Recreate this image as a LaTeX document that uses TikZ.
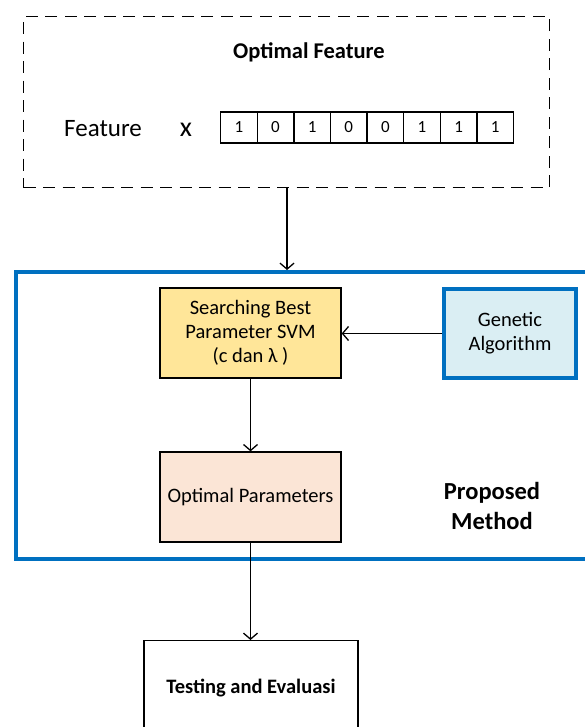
\documentclass[tikz,border=0pt]{standalone}
\usepackage{fontspec}
\setmainfont{Carlito}
\usetikzlibrary{arrows.meta}
\definecolor{pblue}{HTML}{0070C0}
\definecolor{yel}{HTML}{FFE699}
\definecolor{peach}{HTML}{FBE5D6}
\definecolor{lblue}{HTML}{DAEEF3}
\tikzset{
  box/.style={draw, line width=1.3pt, inner sep=0pt, align=center, font=\fontsize{20.5}{24}\selectfont},
  cell/.style={draw, line width=1.3pt, inner sep=0pt, minimum width=36.6pt, minimum height=31pt, anchor=west, font=\fontsize{17}{18}\selectfont},
  arr/.style={line width=1.3pt, -{Straight Barb[length=6pt,width=14pt,line width=1.3pt]}},
}
\begin{document}
\begin{tikzpicture}[x=1pt,y=-1pt]
\useasboundingbox (0,0) rectangle (585,727);
% dashed top box
\node[draw, line width=1.3pt, dash pattern=on 12pt off 7.5pt, inner sep=0pt, anchor=north west, minimum width=526pt, minimum height=171pt] (opt) at (23,16) {};
\node[font=\fontsize{22.5}{26}\selectfont\bfseries] (title) at (309,52) {Optimal Feature};
\node[font=\fontsize{25}{28}\selectfont] (feat) at (103,129) {Feature};
\node[font=\fontsize{28}{30}\selectfont] (xx) at (186,130) {x};
\foreach \v [count=\i from 0] in {1,0,1,0,0,1,1,1} {
  \node[cell] (c\i) at (220+\i*36.6,127.5) {\v};
}
% proposed method box
\node[draw=pblue, line width=3.5pt, inner sep=0pt, anchor=north west, minimum width=590pt, minimum height=287pt] (pm) at (14,270) {};
\node[font=\fontsize{24.5}{30}\selectfont\bfseries, align=center] (pmlabel) at (492,506) {Proposed\\Method};
% inner boxes
\node[box, fill=yel, minimum width=181pt, minimum height=90pt] (sb) at (250.5,333) {Searching Best\\Parameter SVM\\(c dan λ )};
\node[box, draw=pblue, line width=3.2pt, fill=lblue, minimum width=132pt, minimum height=89pt] (ga) at (510,333.5) {Genetic\\Algorithm};
\node[box, fill=peach, minimum width=181pt, minimum height=90pt] (op) at (250.5,497) {Optimal Parameters};
\node[box, anchor=north, minimum width=214pt, minimum height=120pt] (te) at (251,640) {};
\node[font=\fontsize{20.5}{24}\selectfont\bfseries] (tetext) at (251,688) {Testing and Evaluasi};
% connectors
\draw[arr] (opt.south -| 287,0) -- (pm.north -| 287,0);
\draw[arr] (ga.west) -- (sb.east |- ga.west);
\draw[arr] (sb.south) -- (op.north);
\draw[arr] (op.south) -- (te.north -| op.south);
\end{tikzpicture}
\end{document}
